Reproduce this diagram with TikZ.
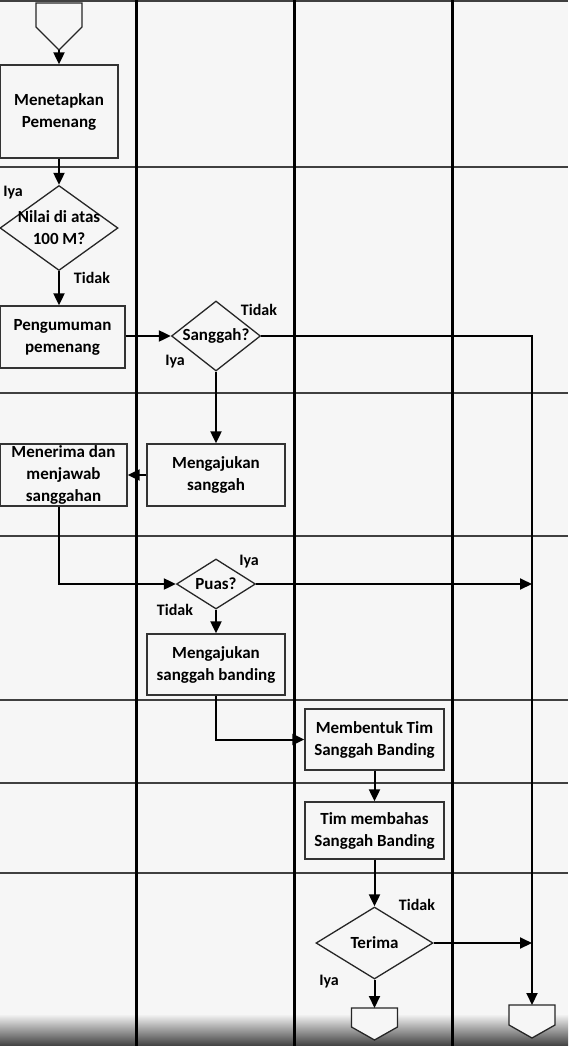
\documentclass[tikz,border=0pt]{standalone}
\usepackage{fontspec}
\setmainfont{Carlito}
\usetikzlibrary{shapes.geometric,arrows.meta}
\definecolor{paper}{gray}{0.965}
\begin{document}
\begin{tikzpicture}[x=1pt,y=-1pt,
 lane/.style={line width=3pt,black},
 rowline/.style={line width=1.4pt,black!75},
 box/.style={draw=black!80,fill=paper,line width=1.3pt,align=center,font=\fontsize{17}{22}\selectfont\bfseries,inner sep=0pt},
 dia/.style={diamond,draw=black!85,fill=paper,line width=1.3pt,inner sep=0pt},
 dtext/.style={font=\fontsize{17}{22}\selectfont\bfseries,align=center,inner sep=0pt},
 lbl/.style={font=\fontsize{16}{20}\selectfont\bfseries,inner sep=0pt},
 flow/.style={line width=2pt,-{Triangle[length=12pt,width=11pt]}},
 plain/.style={line width=2pt},
 conn/.style={draw=black!85,fill=paper,line width=1.3pt}
]
\useasboundingbox (0,0) rectangle (568,1046);
\fill[paper] (0,0) rectangle (568,1046);
\shade[top color=paper, bottom color=black!75] (0,1014) rectangle (568,1046);
% row lines
\foreach \yy in {1,167,393,536,700,783,873}
  \draw[rowline] (0,\yy) -- (568,\yy);
% lane lines
\foreach \xx in {136,294,452}
  \draw[lane] (\xx,0) -- (\xx,1046);

% start connector
\draw[conn] (36,3) -- (82,3) -- (82,27) -- (59,50) -- (36,27) -- cycle;
\coordinate (s) at (59,50);

% nodes
\node[box,minimum width=118pt,minimum height=93pt] (b1) at (59,111.5) {Menetapkan\\Pemenang};
\node[dia,minimum width=118pt,minimum height=85pt,label={[dtext]center:Nilai di atas\\100 M?}] (d1) at (59,228) {};
\node[box,minimum width=125pt,minimum height=62pt] (b2) at (62.5,337) {Pengumuman\\pemenang};
\node[dia,minimum width=89pt,minimum height=70pt,label={[dtext]center:Sanggah?}] (d2) at (216,336) {};
\node[box,minimum width=138pt,minimum height=62pt] (b5) at (216,475) {Mengajukan\\sanggah};
\node[box,minimum width=127pt,minimum height=62pt] (b4) at (63.5,475) {Menerima dan\\menjawab\\sanggahan};
\node[dia,minimum width=79pt,minimum height=50pt,label={[dtext]center:Puas?}] (d3) at (216,584) {};
\node[box,minimum width=138pt,minimum height=61pt] (b6) at (216,664.5) {Mengajukan\\sanggah banding};
\node[box,minimum width=139pt,minimum height=61pt] (b7) at (374.5,739.5) {Membentuk Tim\\Sanggah Banding};
\node[box,minimum width=139pt,minimum height=57pt] (b8) at (374.5,830.5) {Tim membahas\\Sanggah Banding};
\node[dia,minimum width=117pt,minimum height=72pt,label={[dtext]center:Terima}] (d4) at (374.5,943) {};

% end connectors
\draw[conn] (351.5,1008) -- (397.5,1008) -- (397.5,1027) -- (374.5,1040) -- (351.5,1027) -- cycle;
\coordinate (e1) at (374.5,1008);
\draw[conn] (509,1005) -- (555,1005) -- (555,1025) -- (532,1038) -- (509,1025) -- cycle;
\coordinate (e2) at (532,1005);
\coordinate (j1) at (532,584);
\coordinate (j2) at (532,943);

% labels
\node[lbl] (l1) at (13,193) {Iya};
\node[lbl] (l2) at (92,278) {Tidak};
\node[lbl] (l3) at (259,310) {Tidak};
\node[lbl] (l4) at (175,362) {Iya};
\node[lbl] (l5) at (249,562) {Iya};
\node[lbl] (l6) at (175,610) {Tidak};
\node[lbl] (l7) at (417,905) {Tidak};
\node[lbl] (l8) at (329,982) {Iya};

% connectors
\draw[flow] (s) -- (b1.north);
\draw[flow] (b1.south) -- (d1.north);
\draw[flow] (d1.south) -- (d1.south |- b2.north);
\draw[flow] (b2.east |- d2.west) -- (d2.west);
\draw[flow] (d2.east) -| (e2);
\draw[flow] (d2.south) -- (b5.north);
\draw[flow] (b5.west) -- (b4.east);
\draw[flow] ([xshift=-5pt]b4.south) |- (d3.west);
\draw[flow] (d3.east) -- (j1);
\draw[flow] (d3.south) -- (b6.north);
\draw[flow] (b6.south) |- (b7.west);
\draw[flow] (b7.south) -- (b8.north);
\draw[flow] (b8.south) -- (d4.north);
\draw[flow] (d4.east) -- (j2);
\draw[flow] (d4.south) -- (e1);
\end{tikzpicture}
\end{document}
